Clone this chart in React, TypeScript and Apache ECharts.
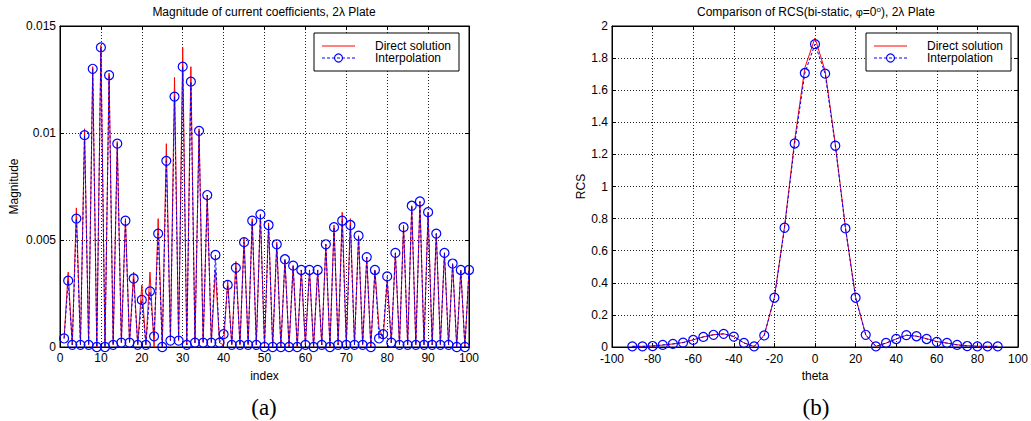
import React, { useEffect, useRef } from 'react';
import * as echarts from 'echarts';

// ---- Data: (a) magnitude of current coefficients (index 1..100) ----
const coefIndex = [
  1, 2, 3, 4, 5, 6, 7, 8, 9, 10, 11, 12, 13, 14, 15, 16, 17, 18, 19, 20,
  21, 22, 23, 24, 25, 26, 27, 28, 29, 30, 31, 32, 33, 34, 35, 36, 37, 38, 39, 40,
  41, 42, 43, 44, 45, 46, 47, 48, 49, 50, 51, 52, 53, 54, 55, 56, 57, 58, 59, 60,
  61, 62, 63, 64, 65, 66, 67, 68, 69, 70, 71, 72, 73, 74, 75, 76, 77, 78, 79, 80,
  81, 82, 83, 84, 85, 86, 87, 88, 89, 90, 91, 92, 93, 94, 95, 96, 97, 98, 99, 100,
];
const interpMag = [
  0.0004, 0.0031, 0.0001, 0.0060, 0.0001, 0.0099, 0.0001, 0.0130, 0.0000, 0.0140,
  0.0000, 0.0127, 0.0001, 0.0095, 0.0002, 0.0059, 0.0002, 0.0032, 0.0001, 0.0022,
  0.0001, 0.0026, 0.0005, 0.0053, 0.0000, 0.0087, 0.0003, 0.0117, 0.0003, 0.0131,
  0.0001, 0.0124, 0.0002, 0.0101, 0.0002, 0.0071, 0.0002, 0.0043, 0.0002, 0.0006,
  0.0029, 0.0001, 0.0037, 0.0001, 0.0049, 0.0001, 0.0059, 0.0001, 0.0062, 0.0000,
  0.0057, 0.0000, 0.0048, 0.0000, 0.0041, 0.0000, 0.0038, 0.0000, 0.0036, 0.0001,
  0.0036, 0.0000, 0.0036, 0.0001, 0.0048, 0.0000, 0.0056, 0.0001, 0.0059, 0.0001,
  0.0057, 0.0001, 0.0052, 0.0001, 0.0042, 0.0000, 0.0036, 0.0004, 0.0006, 0.0033,
  0.0002, 0.0044, 0.0001, 0.0056, 0.0001, 0.0066, 0.0001, 0.0068, 0.0001, 0.0063,
  0.0001, 0.0053, 0.0001, 0.0044, 0.0001, 0.0039, 0.0000, 0.0036, 0.0000, 0.0036,
];
const directMag = [
  0.0004, 0.0035, 0.0001, 0.0065, 0.0001, 0.0102, 0.0001, 0.0131, 0.0000, 0.0141,
  0.0000, 0.0128, 0.0001, 0.0096, 0.0002, 0.0060, 0.0002, 0.0035, 0.0001, 0.0029,
  0.0001, 0.0035, 0.0000, 0.0060, 0.0000, 0.0095, 0.0003, 0.0126, 0.0003, 0.0140,
  0.0001, 0.0131, 0.0002, 0.0102, 0.0002, 0.0071, 0.0002, 0.0036, 0.0002, 0.0001,
  0.0031, 0.0001, 0.0040, 0.0001, 0.0051, 0.0001, 0.0060, 0.0001, 0.0062, 0.0000,
  0.0058, 0.0000, 0.0049, 0.0000, 0.0041, 0.0000, 0.0038, 0.0000, 0.0036, 0.0001,
  0.0036, 0.0000, 0.0036, 0.0001, 0.0048, 0.0000, 0.0057, 0.0001, 0.0063, 0.0001,
  0.0060, 0.0001, 0.0052, 0.0001, 0.0042, 0.0000, 0.0036, 0.0009, 0.0004, 0.0031,
  0.0002, 0.0044, 0.0001, 0.0057, 0.0001, 0.0066, 0.0001, 0.0068, 0.0001, 0.0063,
  0.0001, 0.0053, 0.0001, 0.0044, 0.0001, 0.0039, 0.0000, 0.0036, 0.0000, 0.0036,
];

// ---- Data: (b) bi-static RCS vs theta ----
const thetaDeg = [
  -90, -85, -80, -75, -70, -65, -60, -55, -50, -45, -40, -35, -30, -25, -20, -15, -10, -5,
  0, 5, 10, 15, 20, 25, 30, 35, 40, 45, 50, 55, 60, 65, 70, 75, 80, 85, 90,
];
const interpRcs = [
  0.004, 0.004, 0.006, 0.013, 0.019, 0.027, 0.044, 0.063, 0.076, 0.082, 0.065, 0.025, 0.004,
  0.072, 0.307, 0.743, 1.268, 1.707, 1.887, 1.703, 1.254, 0.739, 0.307, 0.076, 0.004, 0.025,
  0.050, 0.074, 0.067, 0.050, 0.032, 0.025, 0.013, 0.006, 0.004, 0.004, 0.004,
];
const directRcs = [
  0.004, 0.004, 0.006, 0.012, 0.019, 0.028, 0.045, 0.063, 0.077, 0.082, 0.066, 0.026, 0.003,
  0.075, 0.310, 0.750, 1.290, 1.740, 1.925, 1.720, 1.265, 0.745, 0.310, 0.075, 0.004, 0.024,
  0.050, 0.073, 0.068, 0.052, 0.034, 0.024, 0.014, 0.008, 0.005, 0.004, 0.004,
];

// ---- Ticks / labels ----
const magTicks = [0, 0.005, 0.01, 0.015];
const rcsYMax = 2;
const indexMax = 100;
const thetaRange = [-100, 100];
const legendNames = ['Direct solution', 'Interpolation'];

const SANS = '"Liberation Sans", Arial, sans-serif';
const SERIF = '"Liberation Serif", "Times New Roman", serif';
const RED = '#ff0000';
const BLUE = '#0000ff';

const fmt = (v: number) => String(+v.toFixed(4));

function axisCommon(showLabels = true) {
  return {
    axisLine: { show: true, onZero: false, lineStyle: { color: '#000', width: 1 } },
    axisTick: { show: true, inside: true, length: 4, lineStyle: { color: '#000' } },
    axisLabel: { show: showLabels, color: '#000', fontSize: 12, fontFamily: SANS, formatter: fmt },
    splitLine: { show: showLabels, lineStyle: { color: '#222', type: [1, 2], width: 1 } },
    nameTextStyle: { color: '#000', fontSize: 12, fontFamily: SANS },
  };
}

function legendGraphic(boxLeft: number) {
  const x0 = boxLeft + 8;
  const x1 = x0 + 33;
  const tx = boxLeft + 61;
  const y1 = 46;
  const y2 = 58;
  return {
    type: 'group',
    children: [
      { type: 'rect', shape: { x: boxLeft, y: 33, width: 145, height: 38 }, style: { fill: '#fff', stroke: '#000', lineWidth: 1 }, z: 10 },
      { type: 'line', shape: { x1: x0, y1, x2: x1, y2: y1 }, style: { stroke: RED, lineWidth: 1 }, z: 11 },
      { type: 'line', shape: { x1: x0, y1: y2, x2: x1, y2: y2 }, style: { stroke: BLUE, lineWidth: 1, lineDash: [3, 2] }, z: 11 },
      { type: 'circle', shape: { cx: (x0 + x1) / 2, cy: y2, r: 4 }, style: { fill: 'none', stroke: BLUE, lineWidth: 1.2 }, z: 12 },
      { type: 'text', x: tx, y: y1, style: { text: legendNames[0], font: `12px ${SANS}`, fill: '#000', textVerticalAlign: 'middle' }, z: 11 },
      { type: 'text', x: tx, y: y2, style: { text: legendNames[1], font: `12px ${SANS}`, fill: '#000', textVerticalAlign: 'middle' }, z: 11 },
    ],
  };
}

export default function App() {
  const ref = useRef<HTMLDivElement>(null);
  useEffect(() => {
    if (!ref.current) return;
    const chart = echarts.init(ref.current, undefined, { renderer: 'svg' });
    const option: any = {
      animation: false,
      backgroundColor: '#fff',
      grid: [
        { left: 60, top: 26, width: 409, height: 321, show: true, borderColor: '#000', borderWidth: 1, backgroundColor: 'transparent' },
        { left: 612, top: 26, width: 409, height: 321, show: true, borderColor: '#000', borderWidth: 1, backgroundColor: 'transparent' },
      ],
      xAxis: [
        {
          ...axisCommon(), gridIndex: 0, type: 'value', min: 0, max: indexMax, interval: 10,
          name: 'index', nameLocation: 'middle', nameGap: 23,
          axisLabel: { ...axisCommon().axisLabel, margin: 5 },
        },
        {
          ...axisCommon(), gridIndex: 1, type: 'value', min: thetaRange[0], max: thetaRange[1], interval: 20,
          name: 'theta', nameLocation: 'middle', nameGap: 23,
          axisLabel: { ...axisCommon().axisLabel, margin: 6 },
        },
        { ...axisCommon(false), gridIndex: 0, type: 'value', position: 'top', min: 0, max: indexMax, interval: 10 },
        { ...axisCommon(false), gridIndex: 1, type: 'value', position: 'top', min: thetaRange[0], max: thetaRange[1], interval: 20 },
      ],
      yAxis: [
        {
          ...axisCommon(), gridIndex: 0, type: 'value', min: magTicks[0], max: magTicks[magTicks.length - 1], interval: 0.005,
          name: 'Magnitude', nameLocation: 'middle', nameGap: 40,
          axisLabel: { ...axisCommon().axisLabel, margin: 4 },
        },
        {
          ...axisCommon(), gridIndex: 1, type: 'value', min: 0, max: rcsYMax, interval: 0.2,
          name: 'RCS', nameLocation: 'middle', nameGap: 25,
          axisLabel: { ...axisCommon().axisLabel, margin: 4 },
        },
        { ...axisCommon(false), gridIndex: 0, type: 'value', position: 'right', min: magTicks[0], max: magTicks[magTicks.length - 1], interval: 0.005 },
        { ...axisCommon(false), gridIndex: 1, type: 'value', position: 'right', min: 0, max: rcsYMax, interval: 0.2 },
      ],
      series: [
        {
          name: legendNames[0], type: 'line', xAxisIndex: 0, yAxisIndex: 0,
          data: coefIndex.map((x, i) => [x, directMag[i]]),
          showSymbol: false, symbol: 'none',
          lineStyle: { color: RED, width: 1 }, itemStyle: { color: RED },
        },
        {
          name: legendNames[1], type: 'line', xAxisIndex: 0, yAxisIndex: 0,
          data: coefIndex.map((x, i) => [x, interpMag[i]]),
          symbol: 'circle', symbolSize: 9,
          lineStyle: { color: BLUE, width: 1, type: [3, 2] },
          itemStyle: { color: 'transparent', borderColor: BLUE, borderWidth: 1.2 },
        },
        {
          name: legendNames[0], type: 'line', xAxisIndex: 1, yAxisIndex: 1,
          data: thetaDeg.map((x, i) => [x, directRcs[i]]),
          showSymbol: false, symbol: 'none',
          lineStyle: { color: RED, width: 1 }, itemStyle: { color: RED },
        },
        {
          name: legendNames[1], type: 'line', xAxisIndex: 1, yAxisIndex: 1,
          data: thetaDeg.map((x, i) => [x, interpRcs[i]]),
          symbol: 'circle', symbolSize: 9,
          lineStyle: { color: BLUE, width: 1, type: [3, 2] },
          itemStyle: { color: 'transparent', borderColor: BLUE, borderWidth: 1.2 },
        },
      ],
      graphic: [
        legendGraphic(314),
        legendGraphic(866),
        {
          type: 'text', x: 264, y: 12,
          style: {
            text: 'Magnitude of current coefficients, 2λ Plate',
            font: `12px ${SANS}`, fill: '#000', textAlign: 'center', textVerticalAlign: 'middle',
          },
        },
        {
          type: 'text', x: 816, y: 12,
          style: {
            text: 'Comparison of RCS(bi-static, {s|φ}=0{sup|o}), 2λ Plate',
            font: `12px ${SANS}`, fill: '#000', textAlign: 'center', textVerticalAlign: 'middle',
            rich: {
              s: { fontSize: 11, fontFamily: SANS, fill: '#000' },
              sup: { fontSize: 8, fontFamily: SANS, fill: '#000', verticalAlign: 'top', padding: [0, 0, 6, 0] },
            },
          },
        },
        {
          type: 'text', x: 264, y: 407,
          style: { text: '(a)', font: `23px ${SERIF}`, fill: '#000', textAlign: 'center', textVerticalAlign: 'middle' },
        },
        {
          type: 'text', x: 816, y: 407,
          style: { text: '(b)', font: `23px ${SERIF}`, fill: '#000', textAlign: 'center', textVerticalAlign: 'middle' },
        },
      ],
    };
    chart.setOption(option);
    return () => chart.dispose();
  }, []);
  return (
    <div
      ref={ref}
      style={{ position: 'fixed', left: 0, top: 0, width: 1031, height: 421, background: '#fff' }}
    />
  );
}
